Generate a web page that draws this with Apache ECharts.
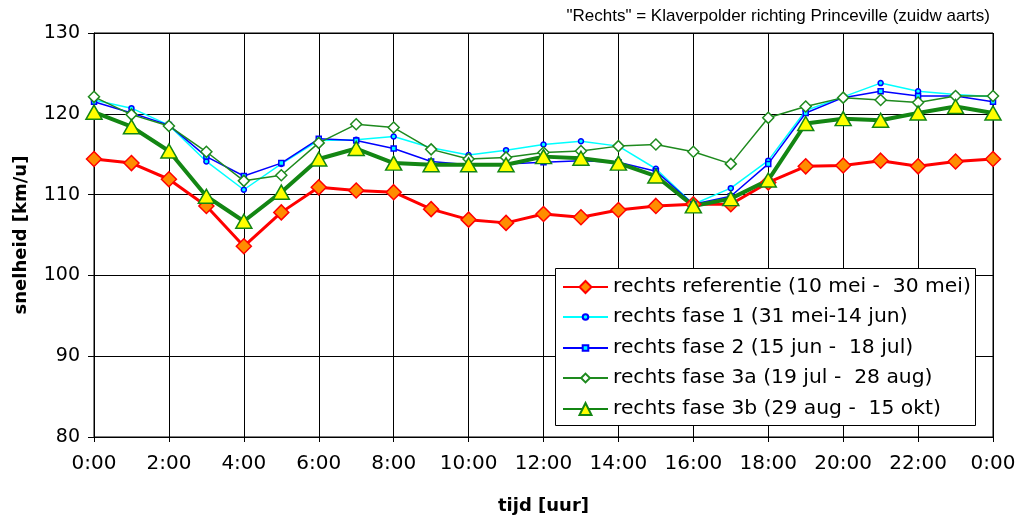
<!DOCTYPE html>
<html><head><meta charset="utf-8">
<script src="https://cdn.jsdelivr.net/npm/echarts@6/dist/echarts.min.js"></script>
<style>html,body{margin:0;padding:0;background:#fff}#c{width:1018px;height:515px}</style>
</head><body><div id="c"></div>
<script>
var hours = ["0:00","1:00","2:00","3:00","4:00","5:00","6:00","7:00","8:00","9:00","10:00","11:00","12:00","13:00","14:00","15:00","16:00","17:00","18:00","19:00","20:00","21:00","22:00","23:00","0:00"];
var referentie = [114.4,113.9,111.9,108.6,103.6,107.8,110.9,110.5,110.3,108.2,106.9,106.5,107.6,107.2,108.1,108.6,108.8,108.8,111.5,113.5,113.6,114.2,113.5,114.1,114.4];
var fase1 = [121.7,120.7,118.6,114.1,110.6,113.8,116.7,116.8,117.2,115.8,114.9,115.5,116.2,116.6,116.0,113.2,108.8,110.8,114.2,120.4,122.1,123.8,122.8,122.4,122.1];
var fase2 = [121.5,120.1,118.6,114.7,112.3,113.9,116.9,116.7,115.7,114.1,113.7,113.8,114.0,114.2,114.0,112.9,108.8,109.8,113.8,120.1,122.0,122.8,122.2,122.2,121.5];
var fase3a = [122.1,119.9,118.5,115.3,111.7,112.4,116.4,118.7,118.3,115.6,114.4,114.6,115.2,115.4,116.0,116.2,115.3,113.8,119.5,120.9,122.0,121.7,121.4,122.2,122.2];
var fase3b = [120.2,118.4,115.4,109.8,106.7,110.3,114.4,115.7,113.9,113.7,113.7,113.7,114.7,114.5,113.9,112.3,108.6,109.5,111.8,118.8,119.4,119.2,120.1,120.9,120.1];
var seriesNames = ["rechts referentie (10 mei -  30 mei)","rechts fase 1 (31 mei-14 jun)","rechts fase 2 (15 jun -  18 jul)","rechts fase 3a (19 jul -  28 aug)","rechts fase 3b (29 aug -  15 okt)"];
var subtitle = '"Rechts" = Klaverpolder richting Princeville (zuidw aarts)';

var chart = echarts.init(document.getElementById('c'));
var F = 'DejaVu Sans';
var legendCenters = [286, 316, 347, 377, 408];
var legendIconH = [15, 7, 7, 11, 15];
var legends = seriesNames.map(function(n, i){
  return {orient:'horizontal',left:562,top:legendCenters[i]-9,padding:0,
    itemWidth:45,itemHeight:legendIconH[i],z:20,
    textStyle:{fontFamily:F,fontSize:20.3,color:'#000'},data:[n]};
});
chart.setOption({
  animation:false,
  backgroundColor:'#fff',
  graphic:[
    {type:'text',right:28,top:8,z:20,style:{text:subtitle,font:'17px "Liberation Sans"',fill:'#000'}},
    {type:'rect',shape:{x:555.5,y:268.5,width:420,height:157},z:10,style:{fill:'#fff',stroke:'#000',lineWidth:1}}
  ],
  grid:{left:94,right:25,top:33,bottom:78,show:true,borderColor:'#000',borderWidth:1,outerBoundsMode:'none',containLabel:false},
  legend:legends,
  xAxis:{type:'category',data:hours,boundaryGap:false,
    axisLine:{lineStyle:{color:'#000'}},
    axisTick:{interval:1,length:5,lineStyle:{color:'#000'}},
    axisLabel:{interval:1,fontFamily:F,fontSize:20,color:'#000',margin:17},
    splitLine:{show:true,interval:1,lineStyle:{color:'#000',width:1}},
    name:'tijd [uur]',nameLocation:'middle',nameGap:60,
    nameTextStyle:{fontFamily:F,fontSize:18,fontWeight:'bold',color:'#000'}},
  yAxis:{type:'value',min:80,max:130,interval:10,
    axisLine:{show:true,lineStyle:{color:'#000'}},
    axisTick:{show:true,length:6,lineStyle:{color:'#000'}},
    axisLabel:{fontFamily:F,fontSize:19,color:'#000',margin:14},
    splitLine:{show:true,lineStyle:{color:'#000',width:1}},
    name:'snelheid [km/u]',nameLocation:'middle',nameGap:64,
    nameTextStyle:{fontFamily:F,fontSize:18,fontWeight:'bold',color:'#000'}},
  series:[
    {name:seriesNames[0],type:'line',data:referentie,symbol:'diamond',symbolSize:15,
     lineStyle:{color:'#ff0000',width:3},itemStyle:{color:'#ff8c00',borderColor:'#ff0000',borderWidth:1.5}},
    {name:seriesNames[1],type:'line',data:fase1,symbol:'circle',symbolSize:5,
     lineStyle:{color:'#00ffff',width:1.5},itemStyle:{color:'#00ffff',borderColor:'#0000ff',borderWidth:1.5}},
    {name:seriesNames[2],type:'line',data:fase2,symbol:'rect',symbolSize:5,
     lineStyle:{color:'#0000ff',width:1.5},itemStyle:{color:'#00ffff',borderColor:'#0000ff',borderWidth:1.5}},
    {name:seriesNames[3],type:'line',data:fase3a,symbol:'diamond',symbolSize:11,
     lineStyle:{color:'#1e8a1e',width:1.5},itemStyle:{color:'#ffffff',borderColor:'#1e8a1e',borderWidth:1.5}},
    {name:seriesNames[4],type:'line',data:fase3b,symbol:'triangle',symbolSize:[16,14],
     lineStyle:{color:'#138613',width:4},itemStyle:{color:'#ffff00',borderColor:'#138613',borderWidth:1.5}}
  ]
});
</script></body></html>
